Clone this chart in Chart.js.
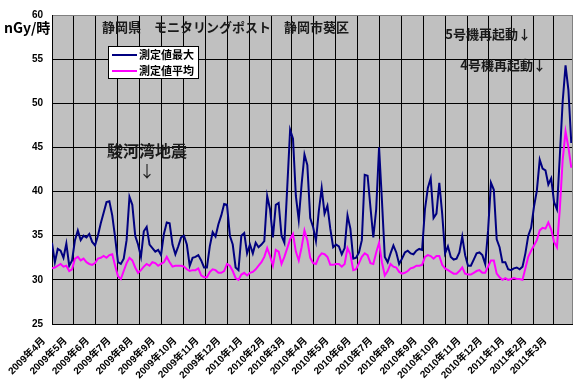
<!DOCTYPE html>
<html><head><meta charset="utf-8">
<script src="https://cdn.jsdelivr.net/npm/chart.js@4.4.1/dist/chart.umd.min.js"></script>
<style>html,body{margin:0;padding:0;background:#fff;}#wrap{width:581px;height:392px;position:relative;}</style>
</head><body><div id="wrap"><canvas id="c" width="581" height="392"></canvas></div>
<script>
// ---- data ----
const monthLabels = ['2009年4月','2009年5月','2009年6月','2009年7月','2009年8月','2009年9月','2009年10月','2009年11月','2009年12月',
  '2010年1月','2010年2月','2010年3月','2010年4月','2010年5月','2010年6月','2010年7月','2010年8月','2010年9月','2010年10月','2010年11月','2010年12月',
  '2011年1月','2011年2月','2011年3月'];
const firstYear = 2009, firstMonthIndex = 3;   // series starts 2009-04-01
const sampleStepDays = 4;                      // one reading every 4 days
const axisEndDay = 725;                        // ~2011-03-26
const seriesNames = ['測定値最大','測定値平均'];
const maxValues = [
 34.2,32.0,33.5,33.3,32.5,34.1,31.6,32.2,34.5,35.6,
 34.5,35.0,34.8,35.2,34.3,33.9,35.0,36.4,37.6,38.8,
 38.9,37.3,34.8,32.0,31.8,32.4,34.5,39.4,38.5,35.0,
 34.0,32.6,35.5,36.0,34.0,33.6,33.2,33.4,32.8,35.2,
 36.5,36.4,34.0,32.9,33.8,34.8,35.0,34.0,31.6,32.5,
 32.6,32.8,32.2,31.4,31.4,33.8,35.4,34.9,36.3,37.3,
 38.6,38.5,35.0,34.0,31.4,31.1,35.0,35.3,33.0,34.0,
 33.0,34.2,33.7,34.0,34.4,39.5,38.0,34.8,38.5,38.7,
 35.0,34.2,40.5,47.0,46.0,39.5,36.8,40.8,44.2,43.0,
 37.0,36.0,34.4,37.8,40.4,37.5,38.4,35.8,33.7,34.0,
 33.8,32.9,33.6,37.3,35.8,32.4,32.5,33.1,34.5,41.9,
 41.8,38.2,34.8,38.0,45.0,39.0,32.6,32.0,33.0,33.9,
 33.1,31.8,32.4,33.1,33.3,33.0,32.9,33.3,33.5,33.4,
 38.0,40.4,41.5,37.0,37.5,41.0,37.5,33.0,33.8,32.6,
 32.3,32.4,33.1,34.9,32.8,31.6,31.6,32.3,33.0,33.1,
 32.8,31.8,35.6,41.0,40.2,34.6,33.7,32.0,32.0,31.2,
 31.1,31.3,31.4,31.2,31.5,33.0,35.0,35.9,38.3,40.1,
 43.6,42.6,42.4,40.8,41.5,38.8,38.0,44.0,50.2,54.3,
 51.5,45.5];
const avgValues = [
 31.3,31.4,31.6,31.8,31.5,31.6,31.0,31.2,32.4,32.6,
 32.2,32.4,32.0,31.8,31.7,31.9,32.4,32.5,32.7,32.5,
 32.8,32.9,31.6,30.4,30.1,31.0,31.9,32.5,32.2,31.4,
 30.8,31.1,31.5,31.8,31.6,32.0,31.9,31.6,31.8,32.0,
 32.6,32.0,31.5,31.6,31.6,31.6,31.5,31.2,31.0,31.1,
 31.1,31.3,30.5,30.3,30.3,30.9,31.2,31.1,30.8,30.8,
 31.0,31.8,31.6,31.0,30.2,30.0,30.6,30.8,30.5,30.8,
 30.9,31.2,31.6,32.0,32.6,33.6,32.7,31.6,33.4,33.2,
 31.8,32.6,33.6,34.6,35.2,33.2,32.2,33.7,35.6,34.5,
 32.5,31.9,31.8,32.6,33.0,32.9,32.6,31.7,31.7,31.8,
 31.8,31.5,31.8,33.6,32.9,31.1,31.2,31.9,32.6,33.0,
 32.8,31.9,31.8,33.1,34.2,32.0,30.5,31.0,31.8,31.5,
 31.4,30.9,30.7,30.8,31.0,31.3,31.4,31.6,31.6,31.7,
 32.6,32.8,32.7,32.4,32.7,32.7,31.7,31.3,31.1,30.9,
 30.7,30.7,31.0,31.4,30.7,30.6,30.6,30.8,31.0,31.1,
 30.8,30.8,31.5,32.2,32.2,30.7,30.3,30.0,30.2,30.0,
 30.1,30.2,30.1,30.1,30.0,31.3,32.6,33.3,33.9,34.5,
 35.6,35.9,35.8,36.5,35.7,34.3,33.7,38.0,43.6,46.8,
 45.0,42.7];
const yMin = 25, yMax = 60, yStep = 5;

// ---- derived ----
const DAY = 86400000;
const t0 = Date.UTC(firstYear, firstMonthIndex, 1);
const monthStartDays = monthLabels.map((_, k) => Math.round((Date.UTC(firstYear, firstMonthIndex + k, 1) - t0) / DAY));
const toPoints = arr => arr.map((v, i) => ({x: i * sampleStepDays, y: v}));

const SANS = '"Liberation Sans","Noto Sans CJK JP",sans-serif';
const CJK = '"Noto Sans CJK JP","Liberation Sans",sans-serif';

const decoPlugin = {
  id: 'deco',
  beforeDraw(chart) {
    const {ctx, chartArea: a} = chart;
    ctx.save();
    ctx.fillStyle = '#fff';
    ctx.fillRect(0, 0, chart.width, chart.height);
    ctx.fillStyle = '#C0C0C0';
    ctx.fillRect(a.left, a.top, a.right - a.left, a.bottom - a.top);
    ctx.restore();
  },
  afterDraw(chart) {
    const {ctx, chartArea: a} = chart;
    ctx.save();
    // right frame edge
    ctx.strokeStyle = '#808080';
    ctx.lineWidth = 1;
    ctx.beginPath();
    ctx.moveTo(Math.round(a.right) + 0.5, a.top);
    ctx.lineTo(Math.round(a.right) + 0.5, a.bottom);
    ctx.stroke();
    // axis unit label
    ctx.fillStyle = '#000';
    ctx.textBaseline = 'middle';
    ctx.textAlign = 'left';
    ctx.font = 'bold 14px ' + CJK;
    ctx.fillText('nGy/時', 4, 28);
    // title
    ctx.fillStyle = '#1a1a1a';
    ctx.font = 'bold 13px ' + CJK;
    ctx.fillText('静岡県　モニタリングポスト　静岡市葵区', 102, 27);
    // annotations
    ctx.font = 'bold 16px ' + CJK;
    ctx.textAlign = 'center';
    ctx.fillText('駿河湾地震', 147, 151);
    ctx.font = '16px ' + CJK;
    ctx.fillText('↓', 147, 171);
    ctx.font = 'bold 13px ' + CJK;
    ctx.textAlign = 'right';
    ctx.fillText('5号機再起動↓', 531, 34);
    ctx.fillText('4号機再起動↓', 546, 65);
    // legend
    const lx = 108, ly = 46, lw = 90, lh = 32;
    ctx.fillStyle = '#fff';
    ctx.fillRect(lx, ly, lw, lh);
    ctx.strokeStyle = '#000';
    ctx.lineWidth = 1;
    ctx.strokeRect(lx + 0.5, ly + 0.5, lw, lh);
    chart.data.datasets.forEach((ds, i) => {
      const y = ly + 9 + i * 16;
      ctx.strokeStyle = ds.borderColor;
      ctx.lineWidth = 2;
      ctx.beginPath();
      ctx.moveTo(lx + 4, y);
      ctx.lineTo(lx + 29, y);
      ctx.stroke();
      ctx.fillStyle = '#000';
      ctx.textAlign = 'left';
      ctx.font = 'bold 11px ' + CJK;
      ctx.fillText(ds.label, lx + 31, y);
    });
    ctx.restore();
  }
};

new Chart(document.getElementById('c'), {
  type: 'line',
  data: {
    datasets: [
      {label: seriesNames[0], data: toPoints(maxValues), borderColor: '#000080', borderWidth: 2, pointRadius: 0, tension: 0, order: 2},
      {label: seriesNames[1], data: toPoints(avgValues), borderColor: '#FF00FF', borderWidth: 2, pointRadius: 0, tension: 0, order: 1}
    ]
  },
  options: {
    responsive: false, animation: false, devicePixelRatio: 1,
    layout: {padding: {top: 13, right: 9, left: 0, bottom: 0}},
    plugins: {legend: {display: false}, tooltip: {enabled: false}},
    scales: {
      x: {
        type: 'linear', min: 0, max: axisEndDay,
        afterBuildTicks: s => { s.ticks = monthStartDays.map(v => ({value: v})); },
        afterFit: s => { s.height = 68; },
        ticks: {autoSkip: false, maxRotation: 45, minRotation: 45, labelOffset: -8, padding: 11, color: '#000',
          font: {family: SANS, size: 10, weight: 'bold'},
          callback: (v, i) => monthLabels[i]},
        grid: {color: '#000', lineWidth: 1, drawTicks: false, tickLength: 0},
        border: {color: '#000', width: 1}
      },
      y: {
        min: yMin, max: yMax,
        afterFit: s => { s.width = 52; },
        ticks: {stepSize: yStep, padding: 9, color: '#000', font: {family: SANS, size: 10, weight: 'bold'}},
        grid: {color: c => (c.tick && c.tick.value === yMax) ? '#808080' : '#000', lineWidth: 1, drawTicks: false, tickLength: 0},
        border: {color: '#000', width: 1}
      }
    }
  },
  plugins: [decoPlugin]
});
</script></body></html>
